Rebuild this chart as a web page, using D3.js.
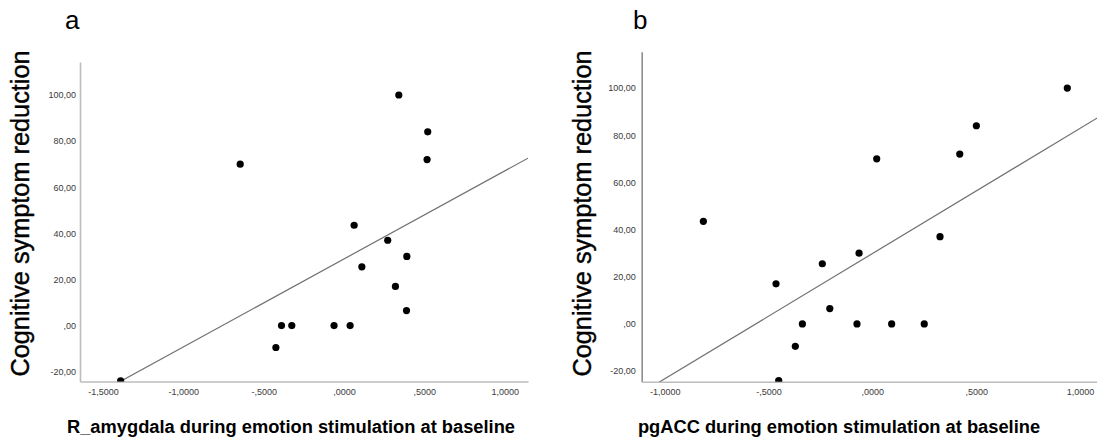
<!DOCTYPE html>
<html>
<head>
<meta charset="utf-8">
<script src="https://cdn.jsdelivr.net/npm/d3@7"></script>
<style>
  html, body { margin: 0; padding: 0; background: #fff; }
  svg { display: block; font-family: "Liberation Sans", Arial, sans-serif; }
</style>
</head>
<body>
<div id="chart"></div>
<script>
// panel a : R_amygdala
var amygdalaX = [-0.646, 0.341, 0.521, 0.517, 0.063, 0.272, 0.391, 0.111, 0.320, 0.389, -0.389, -0.325, -0.062, 0.038, -0.424, -1.390];
var amygdalaY = [70, 100, 84, 72, 43.5, 37, 30, 25.5, 17, 6.5, 0, 0, 0, 0, -9.5, -24];

// panel b : pgACC
var pgaccX = [-0.814, 0.939, 0.501, 0.421, 0.021, 0.326, -0.064, -0.241, -0.464, -0.205, -0.337, -0.074, 0.093, 0.250, -0.371, -0.451];
var pgaccY = [43.5, 100, 84, 72, 70, 37, 30, 25.5, 17, 6.5, 0, 0, 0, 0, -9.5, -24];

var yTicks = [-20, 0, 20, 40, 60, 80, 100];
var xTicksA = [-1.5, -1.0, -0.5, 0, 0.5, 1.0];
var xTicksB = [-1.0, -0.5, 0, 0.5, 1.0];

var yTitle = "Cognitive symptom reduction";

var panels = [
    {
        id: "a", letter: "a", xs: amygdalaX, ys: amygdalaY, xTicks: xTicksA,
        xTitle: "R_amygdala during emotion stimulation at baseline",
        left: 80, right: 528, top: 62, bottom: 381.5,
        xDomain: [-1.643, 1.145], yDomain: [-24.25, 114.3],
        yPad: 4, yAxisColor: "#bcbcbc", xAxisColor: "#bcbcbc",
        letterX: 65, yTitleX: 29, xTitleX: 291
    },
    {
        id: "b", letter: "b", xs: pgaccX, ys: pgaccY, xTicks: xTicksB,
        xTitle: "pgACC during emotion stimulation at baseline",
        left: 641.7, right: 1103, top: 51.7, bottom: 381.7,
        xDomain: [-1.111, 1.111], yDomain: [-24.5, 115.4],
        yPad: 6, yAxisColor: "#8e8e8e", xAxisColor: "#bcbcbc",
        letterX: 633, yTitleX: 591, xTitleX: 839
    }
];

// SPSS style numbers: 100,00  ,00  -,5000
function spss(digits) {
    return function(v) {
        var s = Math.abs(v).toFixed(digits).replace(".", ",");
        if (s.charAt(0) === "0") s = s.slice(1);
        return (v < 0 ? "-" : "") + s;
    };
}

function fit(xs, ys) {
    var mx = d3.mean(xs), my = d3.mean(ys);
    var sxy = d3.sum(xs, function(x, i) { return (x - mx) * (ys[i] - my); });
    var sxx = d3.sum(xs, function(x) { return (x - mx) * (x - mx); });
    var b = sxy / sxx;
    return { a: my - b * mx, b: b };
}

var svg = d3.select("#chart").append("svg")
    .attr("width", 1097)
    .attr("height", 439);

var defs = svg.append("defs");

panels.forEach(function(p) {
    var x = d3.scaleLinear().domain(p.xDomain).range([p.left, p.right]);
    var y = d3.scaleLinear().domain(p.yDomain).range([p.bottom, p.top]);

    defs.append("clipPath")
        .attr("id", "clip-" + p.id)
      .append("rect")
        .attr("x", p.left)
        .attr("y", p.top)
        .attr("width", p.right - p.left)
        .attr("height", p.bottom - p.top);

    var g = svg.append("g");

    // axes
    var yAxis = g.append("g")
        .attr("transform", "translate(" + p.left + ",0)")
        .call(d3.axisLeft(y).tickValues(yTicks).tickSize(0).tickPadding(p.yPad).tickFormat(spss(2)));
    yAxis.select(".domain").attr("stroke", p.yAxisColor).attr("stroke-width", 1.6);
    yAxis.selectAll("text").attr("font-size", 9).attr("fill", "#3a3a3a")
        .attr("font-family", "Liberation Sans, Arial, sans-serif");

    var xAxis = g.append("g")
        .attr("transform", "translate(0," + p.bottom + ")")
        .call(d3.axisBottom(x).tickValues(p.xTicks).tickSize(0).tickPadding(7).tickFormat(spss(4)));
    xAxis.select(".domain").attr("stroke", p.xAxisColor).attr("stroke-width", 1.6);
    xAxis.selectAll("text").attr("font-size", 9).attr("fill", "#3a3a3a")
        .attr("font-family", "Liberation Sans, Arial, sans-serif");

    var plot = g.append("g").attr("clip-path", "url(#clip-" + p.id + ")");

    // fit line
    var f = fit(p.xs, p.ys);
    plot.append("line")
        .attr("x1", x(p.xDomain[0]))
        .attr("y1", y(f.a + f.b * p.xDomain[0]))
        .attr("x2", x(p.xDomain[1]))
        .attr("y2", y(f.a + f.b * p.xDomain[1]))
        .attr("stroke", "#707070")
        .attr("stroke-width", 1.2);

    // points
    plot.selectAll("circle")
        .data(p.xs.map(function(v, i) { return [v, p.ys[i]]; }))
        .enter()
      .append("circle")
        .attr("cx", function(d) { return x(d[0]); })
        .attr("cy", function(d) { return y(d[1]); })
        .attr("r", 3.6)
        .attr("fill", "#000");

    // texts
    g.append("text")
        .attr("x", p.letterX)
        .attr("y", 28.5)
        .attr("font-size", 26)
        .attr("fill", "#000")
        .text(p.letter);

    g.append("text")
        .attr("transform", "translate(" + p.yTitleX + ",213.5) rotate(-90)")
        .attr("text-anchor", "middle")
        .attr("font-size", 25.3)
        .attr("fill", "#000")
        .attr("stroke", "#000")
        .attr("stroke-width", 0.4)
        .text(yTitle);

    g.append("text")
        .attr("x", p.xTitleX)
        .attr("y", 433)
        .attr("text-anchor", "middle")
        .attr("font-size", 18.3)
        .attr("font-weight", "bold")
        .attr("fill", "#000")
        .text(p.xTitle);
});
</script>
</body>
</html>
